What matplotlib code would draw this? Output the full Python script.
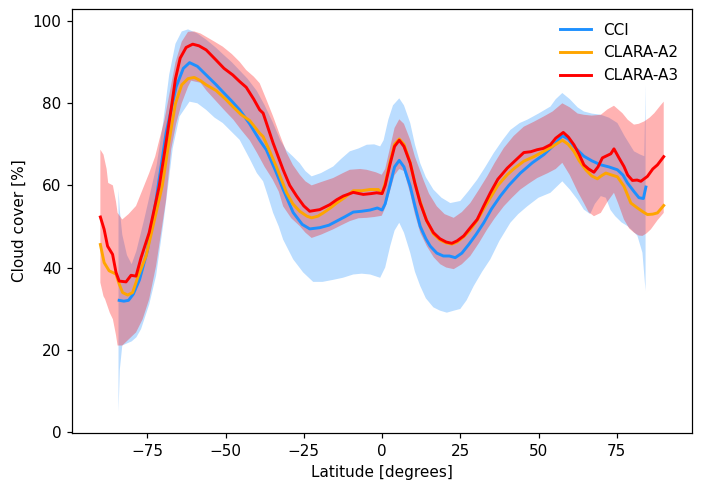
import numpy as np
import matplotlib
matplotlib.use("Agg")
import matplotlib.pyplot as plt

# --- medias zonales (lat, valor) ---
cci_lat = [-84, -82.5, -81, -79.5, -77.5, -75, -72.2, -69, -65.8, -63.5, -61.5, -59, -56.2, -53,
           -50.9, -48, -45.5, -42.3, -39.1, -37, -34, -31.6, -28.4, -25.5, -23.1, -19.9, -17,
           -14.5, -12, -9.2, -6.5, -3.8, -1.5, 0, 1, 2.5, 4, 5.5, 7, 9, 10.5, 12.2, 14, 15.4,
           17.5, 19.6, 21.5, 23.4, 25.5, 27.7, 30, 32.5, 35, 37.8, 40.5, 44.2, 48, 51.7, 54.5,
           57.6, 59.5, 61.3, 64.5, 67, 69.9, 72.5, 75.2, 77, 78.4, 80.5, 82.1, 83.5, 84.3]
cci_val = [32.0, 31.8, 32.0, 33.5, 37, 44, 56.5, 72.8, 84, 88.5, 89.9, 89, 86.9, 84.5,
           82.8, 80.5, 78.4, 75, 71, 68.7, 63.5, 59, 53.4, 50.5, 49.4, 49.7, 50.3,
           51.3, 52.3, 53.5, 53.7, 54, 54.5, 54, 55.5, 60, 64.5, 66.1, 64.5, 59.8, 55, 50, 47, 45.2,
           43.5, 42.8, 42.8, 42.4, 43.5, 45.6, 48, 50.9, 54.3, 57.4, 60, 63, 65.5, 67.5, 69.5,
           72.1, 71.3, 69.5, 67.1, 66, 65, 64.5, 63.8, 62.5, 60.6, 58.5, 57, 56.8, 59.6]

a3_lat = [-90, -88.8, -87.7, -86.1, -85, -84, -81.8, -80.2, -78.6, -77, -74.4, -71.2, -69.5,
          -67.5, -66, -64.5, -62.6, -60.5, -58.5, -56.2, -53, -50.5, -47.7, -45.5, -43.4, -41,
          -39.1, -38, -34.8, -31.6, -29.5, -27.3, -25, -23.1, -19.9, -16.7, -14.5, -12.4, -9.2,
          -6, -3.5, -1.7, 0, 1, 2.5, 4, 5.5, 7, 9, 10.5, 12.2, 14.2, 16.4, 18.5, 20.5, 22.3, 24,
          26.1, 28, 30.4, 32.5, 34.6, 37, 40, 42.5, 45.3, 47.5, 49.6, 51.5, 53.8, 55.5, 57.9,
          59.5, 61.3, 63, 64.5, 66, 67.7, 69, 70.4, 73.1, 74.1, 75.7, 77.3, 78.5, 80, 81.5, 82.7,
          84.8, 86.5, 88, 90]
a3_val = [52.3, 49.3, 45.2, 43.2, 38.8, 36.7, 36.5, 38.1, 37.9, 42.4, 48.5, 59.8, 68,
          78, 86, 91, 93.6, 94.4, 94, 93, 90.5, 88.5, 86.9, 85.3, 83.9, 81,
          78.4, 77.6, 70.3, 63.8, 60, 57.4, 55, 53.7, 54.1, 55.3, 56.5, 57.4, 58.3,
          57.8, 58, 58.2, 58, 60, 65, 69.5, 71, 69.5, 65.4, 60.5, 55.7, 51.5, 48.5, 47, 46.2, 45.9, 46.5,
          47.7, 49.5, 51.7, 55, 58.2, 61.5, 64.2, 66, 68, 68.2, 68.7, 69, 69.9, 71.5, 72.9,
          71.8, 69.9, 67.5, 65, 64, 63.2, 64.5, 66.7, 67.7, 68.9, 66.7, 64.6, 62.5, 61.2, 61.3, 61,
          62.2, 64, 65, 67]

a2_lat = [-90, -88.8, -87.2, -85, -84, -82.9, -81.3, -79.7, -78.1, -75.4, -72.2, -70.2, -68,
          -66, -64, -62, -60, -58, -56.2, -53, -50, -47.7, -45, -42.3, -39.1, -38, -36, -33.8,
          -30.5, -28.5, -26.3, -24, -22.5, -20.5, -18.8, -16.5, -14.5, -12, -9.2, -6.5, -3.8,
          -1.2, 0, 1, 2.5, 4, 5.5, 7, 9, 10.5, 12.2, 14.2, 16.4, 18.5, 20.5, 22.3, 24, 26.1, 28,
          30.4, 32.5, 34.6, 37, 40, 42.5, 45.3, 48.5, 51.7, 54.5, 57.6, 59.5, 61.3, 63, 65.1, 67,
          68.8, 70, 71.5, 73.5, 75.2, 77.3, 79.5, 81.6, 83.5, 84.8, 86.5, 88, 90]
a2_val = [45.6, 41.2, 39.2, 38.4, 36, 33.9, 33.3, 33.9, 37.5, 42.8, 53.3, 60, 71,
          80, 84.5, 86, 86.3, 85.5, 84.5, 83.1, 81, 79.2, 77.2, 75.8, 72.7, 71.9, 68.5, 64.6,
          58.2, 55.5, 53.7, 52.5, 52.1, 52.5, 53.3, 54.5, 55.7, 57, 58.7, 58.7, 59,
          59, 58, 60.5, 65.5, 70, 71.3, 70, 65.5, 60.5, 56, 51.5, 48.2, 46.7, 46, 45.7, 46.2, 47.5, 49,
          51.5, 54.3, 57, 60, 62.6, 64.3, 65.9, 67, 68.3, 69.5, 71, 70, 68.3, 66, 63.8, 62.3,
          61.6, 62.3, 63, 62.5, 62.1, 59.8, 55.7, 54.5, 53.5, 52.9, 53, 53.3, 55.1]

# --- bandas (desviacion) ---
cci_lo_lat = [-84.2, -83.8, -83, -81.5, -80, -78.5, -77, -74.4, -72.2, -70, -68, -66.9, -64.7,
              -61.5, -59, -56.2, -53.5, -50.9, -48, -45.5, -42.3, -40, -38, -36.5, -34.8, -33,
              -31.6, -30, -28.4, -25.2, -22, -19, -15.6, -12.5, -9.2, -6.5, -3.8, -0.6, 1, 2.6,
              4, 5.5, 7, 9, 10.5, 12.2, 14, 16.4, 18.5, 20.7, 23, 25, 27, 29.3, 32, 34.6, 37.5,
              41, 43.5, 46.4, 50, 53.8, 57.6, 60, 62.5, 64.5, 66.5, 68, 69.9, 71.5, 73, 74.5,
              76.5, 78.4, 80, 81.6, 83.2, 84.2]
cci_lo = [4.8, 15, 21, 21.5, 22, 23, 25, 31, 38, 50, 62, 69, 76.8,
          80.4, 80, 78.4, 76.5, 75.2, 73, 71.1, 66.5, 63, 61, 57.5, 53.3, 50,
          46.8, 44.4, 42, 38.8, 36.5, 36.5, 37, 37.5, 38.3, 38.5, 38.3, 37.5, 40, 45.2,
          49, 50.9, 48.5, 43.6, 39, 35.5, 32.5, 30.3, 29.5, 29, 29.5, 29.9, 32, 35.5, 39, 42, 46.5,
          50.9, 53, 54.9, 57, 58.2, 61, 59, 56.5, 54.1, 53, 55.5, 57.4, 57, 54, 52.5,
          51, 50.1, 49, 47.7, 43.6, 34.3]
cci_hi_lat = [-84.2, -83.8, -83, -81.5, -80, -78.5, -76, -74.4, -72, -70, -68, -66, -64, -62,
              -59, -56.2, -53, -50.9, -48, -45.5, -43, -40, -37.5, -35, -32.5, -30.5, -28.4,
              -26.3, -24.5, -22.5, -19.5, -15.6, -13, -10.3, -7.5, -4.9, -2.5, -0.6, 0.5, 2,
              3.5, 5.5, 7, 9, 10.5, 12.2, 14, 16.4, 19, 21.8, 25, 27.5, 30.4, 33, 35.7, 38.5, 41,
              44, 46.4, 50, 53.8, 55.5, 57.6, 60, 62.5, 64.5, 67, 69.9, 72.5, 75.2, 77.5, 80.5,
              82.5, 83.8, 84.2]
cci_hi = [59, 54, 48, 43, 40.8, 44, 51.7, 57, 65, 75, 87, 94.5, 97.5, 98,
          97, 95.5, 93.5, 92, 90, 88, 86, 83, 79.5, 75.5, 71, 68.5, 67,
          65.4, 63.5, 62.2, 63, 64.6, 66.5, 68.3, 69, 69.9, 70, 69.5, 71, 76,
          79.5, 81.2, 79.5, 75.2, 70, 65.4, 62, 59, 57, 55.7, 56.2, 58.5, 61.4, 64.5, 67.9, 71, 73.5,
          75.2, 76, 77.5, 79.2, 81, 82.5, 81, 79, 78, 77.5, 77.2, 76.5, 75.2, 72, 68.3,
          67.5, 67.1, 84.5]

a3_lo_lat = [-90, -89, -88.5, -87, -86, -85, -84.5, -83, -80.8, -78.6, -76.5, -74.4, -72.2, -69,
             -67.4, -65.8, -64, -62, -61, -58, -56, -53, -50, -47.5, -45, -42.3, -40, -37.5,
             -35, -33, -31.6, -29, -26.3, -24.5, -22.5, -19.5, -15.6, -13, -10.3, -7.5, -4.9,
             -2.5, -0.1, 1, 2.5, 4, 5.5, 7, 9, 10.5, 12.2, 14.3, 16.5, 18.6, 20.5, 22.9, 25.5,
             28.2, 31, 33.6, 36, 38.9, 41.5, 44.2, 47, 49.6, 53, 55.5, 57.6, 60, 62.5, 64.5, 66,
             67.7, 69.9, 72, 74.1, 75.5, 77.3, 79, 80.5, 82, 83.2, 84.5, 85.9, 88, 90]
a3_lo = [36.3, 33, 32.3, 29, 27.4, 23.5, 21, 21, 22.6, 24.2, 27.4, 32.3, 40.4, 56.5,
         68.7, 75, 80, 84, 85.5, 85, 83, 80.5, 78, 76, 73.5, 71, 68, 64.5,
         61.5, 58.5, 54.9, 52, 50.1, 48.5, 47.2, 48, 49.3, 50.3, 51.3, 52, 52.1,
         52.3, 52.6, 54.5, 58.5, 62.5, 64, 63.5, 58, 53, 48.5, 45.2, 42.5, 40.8, 40, 39.6, 40.8,
         42.8, 46, 49.3, 52, 54.9, 57, 59, 60.5, 61.8, 63, 64, 65.5, 62.5, 58.5, 55.7, 53.5,
         52.5, 53.3, 56, 58.2, 55.5, 51.7, 49.5, 48.5, 47.8, 47.7, 48.3, 49.3, 51.5, 53.3]
a3_hi_lat = [-90, -89, -88, -87.5, -86, -85, -84.5, -83, -81, -78.6, -76.5, -74.4, -72.5, -71.2,
             -69.5, -68, -66, -64, -62, -60, -58, -56.2, -53.5, -50.9, -48, -45.5, -43.4, -41,
             -39.1, -37, -34.8, -32.5, -30.5, -28.5, -26.3, -24.5, -22.5, -19.5, -15.6, -12.5,
             -10.3, -7, -4.9, -2, -0.1, 1, 2.5, 4, 5.5, 7, 9, 10.5, 12.2, 13.2, 15, 17.5, 20, 22.9,
             25.5, 28.2, 31, 33.6, 36, 38.9, 42, 45.3, 48.5, 51.7, 54.5, 57.6, 60, 62.5, 64.5, 67,
             69.9, 72, 74.1, 76.8, 78.5, 80.5, 82, 83.8, 85.5, 87, 89, 90]
a3_hi = [68.7, 67.5, 64, 60.6, 60, 56, 53.3, 51.7, 53, 55, 59, 63, 67, 71,
         76, 82, 90, 95, 97.4, 97.5, 97, 96.2, 95, 93.8, 92, 90.1, 88.1, 86.5,
         84.9, 81, 76.8, 72, 68, 65, 62.6, 61, 60, 60.8, 61.8, 63,
         63.8, 64, 63.8, 63.2, 62.6, 64, 69, 74, 76.1, 75, 71.1, 67, 63.5, 61.4, 58, 54.9, 53, 52.1,
         53.5, 55.7, 59, 62.2, 65.5, 69.1, 72, 74.3, 75.5, 76.8, 78, 80, 79, 77.5, 77.2, 77,
         77.2, 78.5, 79.4, 77.6, 76, 74.8, 75, 75.6, 76.5, 77.6, 79.5, 80.4]

fig, ax = plt.subplots(figsize=(701 / 110, 492 / 110), dpi=110)
fig.subplots_adjust(left=0.103, right=0.987, top=0.982, bottom=0.12)


def banda(lat_lo, lo, lat_hi, hi, color):
    xs = list(lat_hi) + list(lat_lo)[::-1]
    ys = list(hi) + list(lo)[::-1]
    ax.fill(xs, ys, color=color, alpha=0.3, lw=0)


banda(cci_lo_lat, cci_lo, cci_hi_lat, cci_hi, "dodgerblue")
banda(a3_lo_lat, a3_lo, a3_hi_lat, a3_hi, "red")

ax.plot(cci_lat, cci_val, color="dodgerblue", lw=1.9, label="CCI")
ax.plot(a2_lat, a2_val, color="orange", lw=1.9, label="CLARA-A2")
ax.plot(a3_lat, a3_val, color="red", lw=1.9, label="CLARA-A3")

ax.set_xlim(-99, 99)
ax.set_ylim(-0.3, 103)
ax.set_xticks([-75, -50, -25, 0, 25, 50, 75])
ax.set_yticks([0, 20, 40, 60, 80, 100])
ax.set_xlabel("Latitude [degrees]")
ax.set_ylabel("Cloud cover [%]")
ax.legend(loc="upper right", frameon=False)

fig.savefig("out.png", dpi=110)
